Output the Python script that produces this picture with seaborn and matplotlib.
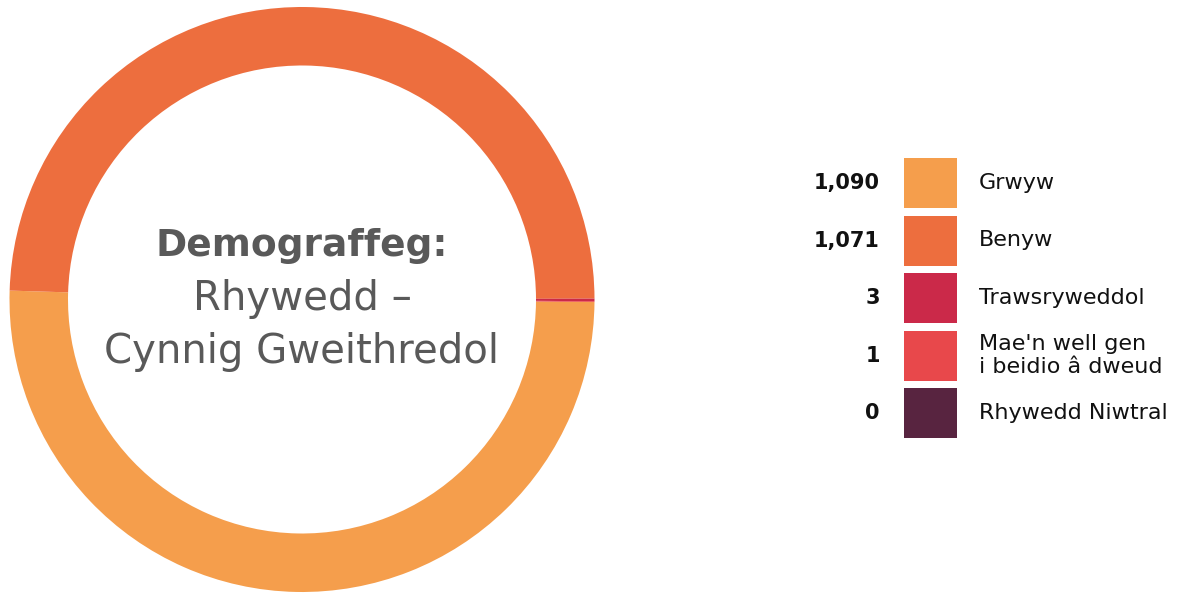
import matplotlib
matplotlib.use("Agg")
import matplotlib.pyplot as plt
from matplotlib.patches import Rectangle
import seaborn as sns

categories = ["Grwyw", "Benyw", "Trawsryweddol", "Mae'n well gen\ni beidio â dweud", "Rhywedd Niwtral"]
values = [1090, 1071, 3, 1, 0]
value_labels = ["1,090", "1,071", "3", "1", "0"]
colors = ["#F59E4C", "#ED6E3E", "#CB2949", "#E8484B", "#582440"]
center_title = ["Demograffeg:", "Rhywedd –", "Cynnig Gweithredol"]

sns.set_theme(style="white")
plt.rcParams["font.family"] = ["DejaVu Sans"]

W, H = 1182, 595
fig = plt.figure(figsize=(W / 100, H / 100), dpi=100)
fig.patch.set_facecolor("white")

# donut
cx, cy, r = 302, 299.5, 292.5
ax = fig.add_axes([(cx - r) / W, (H - cy - r) / H, 2 * r / W, 2 * r / H])
nz = [(v, c) for v, c in zip(values, colors) if v > 0]
ax.pie([v for v, _ in nz], colors=[c for _, c in nz], startangle=-0.5, counterclock=False,
       radius=1.0, wedgeprops=dict(width=0.2, linewidth=0, antialiased=True))
ax.set_xlim(-1, 1)
ax.set_ylim(-1, 1)
ax.set_aspect("equal")
ax.axis("off")

# overlay in pixel coordinates
ov = fig.add_axes([0, 0, 1, 1])
ov.set_xlim(0, W)
ov.set_ylim(H, 0)
ov.axis("off")
ov.patch.set_alpha(0)

gray = "#595959"
ov.text(cx, 246, center_title[0], ha="center", va="center", fontsize=27, fontweight="bold", color=gray)
ov.text(cx, 299, center_title[1], ha="center", va="center", fontsize=29, color=gray)
ov.text(cx, 352, center_title[2], ha="center", va="center", fontsize=29, color=gray)

top0, pitch, sh, sw, sx = 158, 57.5, 50, 53, 904
for i, (cat, lab, col) in enumerate(zip(categories, value_labels, colors)):
    y = top0 + i * pitch
    ov.add_patch(Rectangle((sx, y), sw, sh, facecolor=col, edgecolor="none"))
    ov.text(880, y + sh / 2, lab, ha="right", va="center", fontsize=15, fontweight="bold", color="#111111")
    ov.text(979, y + sh / 2, cat, ha="left", va="center", fontsize=16, color="#111111", linespacing=1.2)

fig.savefig("out.png", dpi=100, facecolor="white")
